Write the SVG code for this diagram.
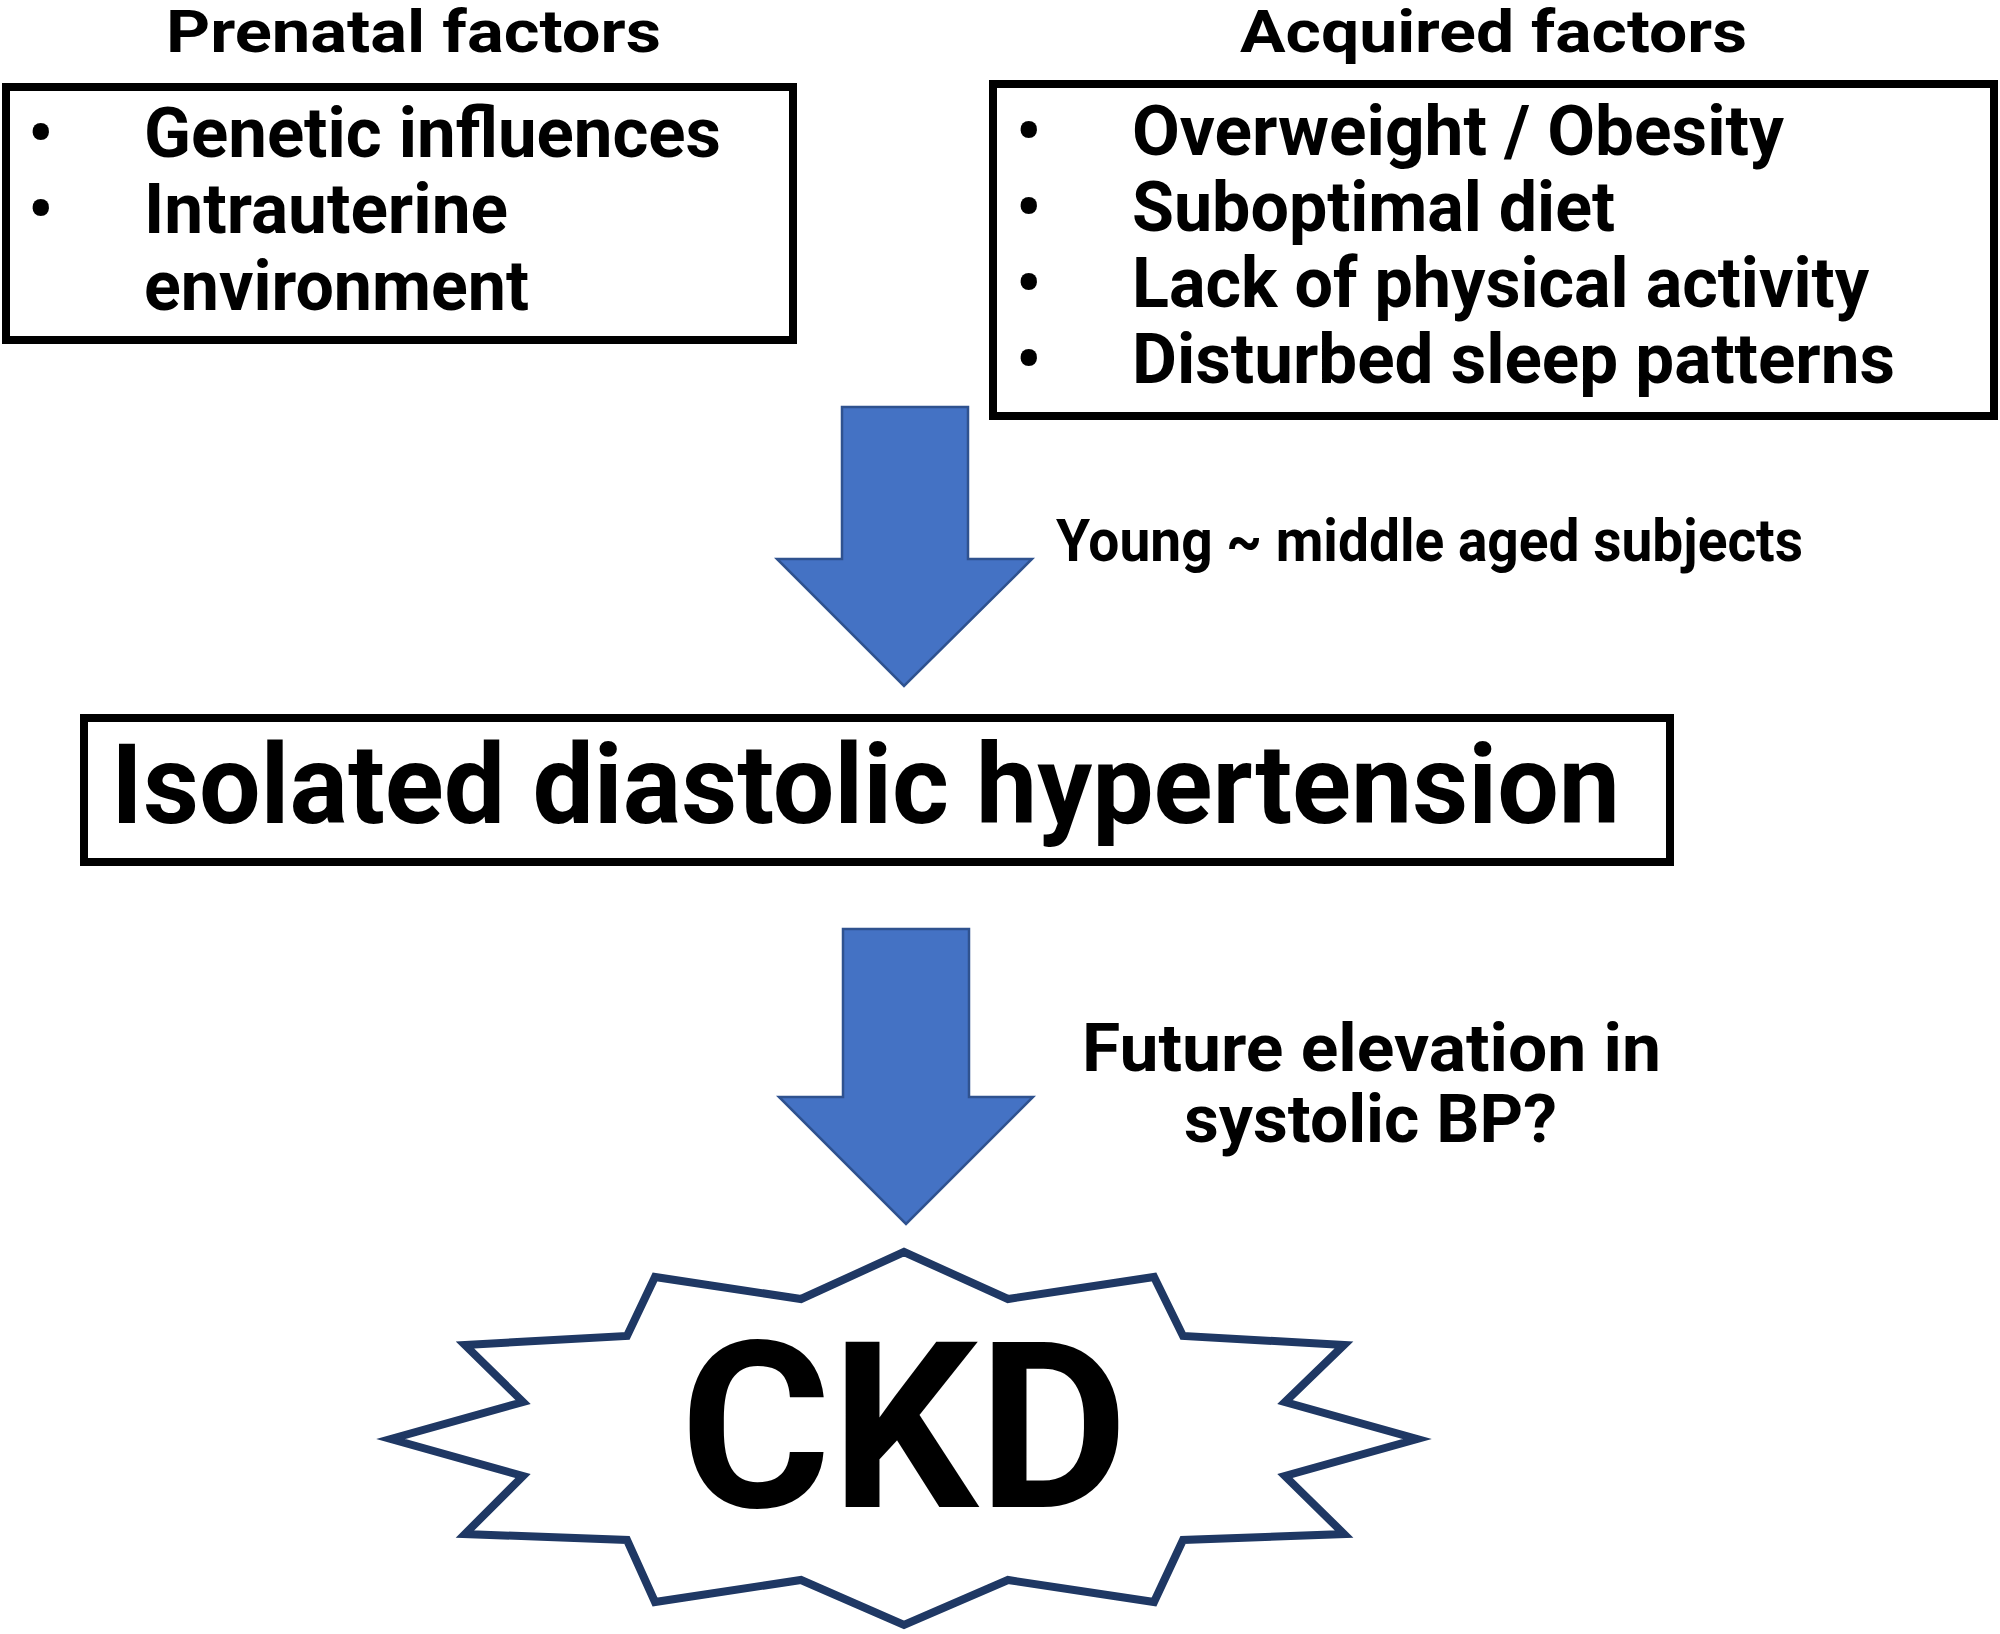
<svg xmlns="http://www.w3.org/2000/svg" width="2000" height="1634" viewBox="0 0 2000 1634">
<style>
  text { font-family: Roboto, "Liberation Sans", "Noto Sans", sans-serif; font-weight: 700; fill: #000; }
  .title { font-size: 60px; }
  .item { font-size: 70px; }
  .box { fill: #fff; stroke: #000; stroke-width: 8; }
  .arrow { fill: #4472C4; stroke: #2F528F; stroke-width: 2.5; stroke-linejoin: miter; }
  .star { fill: #fff; stroke: #1F3864; stroke-width: 8; stroke-linejoin: miter; }
</style>
<rect width="2000" height="1634" fill="#fff"/>

<g id="prenatal">
  <text class="title" x="166" y="52" textLength="495" lengthAdjust="spacingAndGlyphs">Prenatal factors</text>
  <rect class="box" x="6" y="87" width="787" height="253"/>
  <text class="item" x="28" y="157">•</text>
  <text class="item" x="28" y="233">•</text>
  <text class="item" x="144" y="157" textLength="577" lengthAdjust="spacingAndGlyphs">Genetic influences</text>
  <text class="item" x="144" y="233" textLength="364" lengthAdjust="spacingAndGlyphs">Intrauterine</text>
  <text class="item" x="144" y="310" textLength="385" lengthAdjust="spacingAndGlyphs">environment</text>
</g>

<g id="acquired">
  <text class="title" x="1240" y="52" textLength="507" lengthAdjust="spacingAndGlyphs">Acquired factors</text>
  <rect class="box" x="993" y="84" width="1001" height="332"/>
  <text class="item" x="1016" y="155">•</text>
  <text class="item" x="1016" y="231">•</text>
  <text class="item" x="1016" y="307">•</text>
  <text class="item" x="1016" y="383">•</text>
  <text class="item" x="1132" y="155" textLength="652" lengthAdjust="spacingAndGlyphs">Overweight / Obesity</text>
  <text class="item" x="1132" y="231" textLength="483" lengthAdjust="spacingAndGlyphs">Suboptimal diet</text>
  <text class="item" x="1132" y="307" textLength="737" lengthAdjust="spacingAndGlyphs">Lack of physical activity</text>
  <text class="item" x="1132" y="383" textLength="763" lengthAdjust="spacingAndGlyphs">Disturbed sleep patterns</text>
</g>

<g id="idh">
  <rect class="box" x="84" y="718" width="1586" height="144"/>
  <text x="111" y="823" font-size="112" textLength="1509" lengthAdjust="spacingAndGlyphs">Isolated diastolic hypertension</text>
</g>

<g id="ckd">
  <polygon class="star" points="904,1252 1008,1299 1154,1277 1183,1336 1344,1345 1285,1402 1417,1439 1285,1476 1344,1534 1183,1540 1154,1602 1008,1580 904,1625 801,1580 655,1602 627,1540 465,1534 523,1476 391,1439 523,1402 465,1345 627,1336 655,1277 801,1299"/>
  <text x="680" y="1507" font-size="232" textLength="448" lengthAdjust="spacingAndGlyphs">CKD</text>
</g>

<g id="connectors">
  <polygon class="arrow" points="842,407 968,407 968,559 1032,559 904,686 777,559 842,559"/>
  <polygon class="arrow" points="843,929 969,929 969,1097 1033,1097 906,1224 779,1097 843,1097"/>
  <text x="1056" y="561" font-size="60" textLength="747" lengthAdjust="spacingAndGlyphs">Young ~ middle aged subjects</text>
  <text x="1082" y="1071" font-size="66" textLength="579" lengthAdjust="spacingAndGlyphs">Future elevation in</text>
  <text x="1184" y="1142" font-size="66" textLength="373" lengthAdjust="spacingAndGlyphs">systolic BP?</text>
</g>
</svg>
